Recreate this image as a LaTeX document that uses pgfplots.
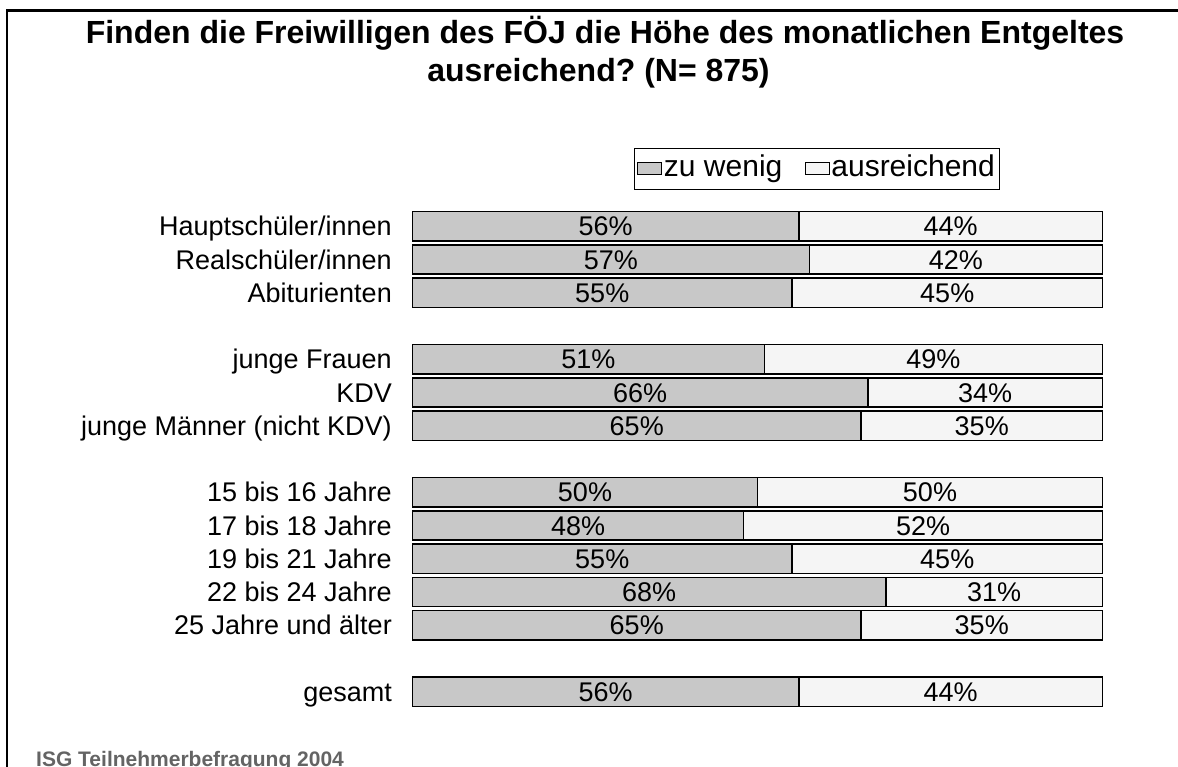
\documentclass[border=0pt]{standalone}
\usepackage{pgfplots}
\pgfplotsset{compat=1.18}
\usepackage{pgfplotstable}
\usepackage{fontspec}
\setmainfont{Liberation Sans}
\frenchspacing
\definecolor{bargray}{RGB}{200,200,200}
\definecolor{barwhite}{RGB}{245,245,245}
\definecolor{footgray}{RGB}{100,100,100}

\pgfplotstableread{
row v lg lw
0  56   56 44
1  57.5 57 42
2  55   55 45
4  51   51 49
5  66   66 34
6  65   65 35
8  50   50 50
9  48   48 52
10 55   55 45
11 68.6 68 31
12 65   65 35
14 56   56 44
}\datatable

\begin{document}
\begin{tikzpicture}
\useasboundingbox (0pt,0pt) rectangle (1178pt,-766pt);
\fill[white] (0pt,0pt) rectangle (1178pt,-766pt);
\draw[line width=2.5pt] (7pt,-900pt) -- (7pt,-10.5pt) -- (1300pt,-10.5pt);
\node[font=\bfseries\fontsize{32}{38}\selectfont, anchor=base] at (605pt,-43pt) {Finden die Freiwilligen des FÖJ die Höhe des monatlichen Entgeltes};
\node[font=\bfseries\fontsize{32}{38}\selectfont, anchor=base] at (598.5pt,-81pt) {ausreichend? (N= 875)};
\node[font=\bfseries\fontsize{21}{25}\selectfont, text=footgray, anchor=base west, inner sep=0pt] at (36pt,-766pt) {ISG Teilnehmerbefragung 2004};
\begin{axis}[
  at={(412.5pt,-708.35pt)}, anchor=south west,
  scale only axis, width=690pt, height=498.75pt,
  xmin=0, xmax=100, ymin=-0.5, ymax=14.5, y dir=reverse,
  clip=false,
  axis line style={draw=none},
  xtick=\empty,
  ytick={0,1,2,4,5,6,8,9,10,11,12,14},
  yticklabels={Hauptschüler/innen\ ,Realschüler/innen,Abiturienten,junge Frauen,KDV,junge Männer (nicht KDV),15 bis 16 Jahre,17 bis 18 Jahre,19 bis 21 Jahre,22 bis 24 Jahre,25 Jahre und älter,gesamt},
  major tick length=0pt,
  ytick style={draw=none},
  yticklabel style={font=\fontsize{27}{30}\selectfont, anchor=east, inner sep=0pt,
    text height=19.4pt, text depth=0pt, xshift=-20.5pt},
  legend columns=2,
  legend style={at={(0.321,1.1235)}, anchor=north west, draw=black, line width=1pt,
    font=\fontsize{30}{33}\selectfont, inner xsep=3pt, inner ysep=5pt,
    /tikz/every even column/.append style={column sep=21pt},
    nodes={inner sep=1.5pt, text height=21.5pt, text depth=6pt}},
]
\addlegendimage{legend image code/.code={\draw[fill=bargray, draw=black, line width=1pt] (0pt,-6pt) rectangle (24pt,6pt);}}
\addlegendentry{zu wenig}
\addlegendimage{legend image code/.code={\draw[fill=barwhite, draw=black, line width=1pt] (0pt,-6pt) rectangle (24pt,6pt);}}
\addlegendentry{ausreichend}
\addplot[xbar, bar width=0.88, fill=barwhite, draw=black, line width=1.5pt, forget plot] table[x expr=100, y=row] {\datatable};
\addplot[xbar, bar width=0.88, fill=bargray, draw=black, line width=1.5pt, forget plot] table[x=v, y=row] {\datatable};
\addplot[only marks, mark=none, forget plot, nodes near coords={\pgfplotspointmeta\%}, point meta=explicit symbolic,
  every node near coord/.style={anchor=center, font=\fontsize{27}{30}\selectfont, inner sep=0pt, text height=19.4pt, text depth=0pt}]
  table[x expr=\thisrow{v}/2, y=row, meta=lg] {\datatable};
\addplot[only marks, mark=none, forget plot, nodes near coords={\pgfplotspointmeta\%}, point meta=explicit symbolic,
  every node near coord/.style={anchor=center, font=\fontsize{27}{30}\selectfont, inner sep=0pt, text height=19.4pt, text depth=0pt}]
  table[x expr=(\thisrow{v}+100)/2, y=row, meta=lw] {\datatable};
\end{axis}
\end{tikzpicture}
\end{document}
